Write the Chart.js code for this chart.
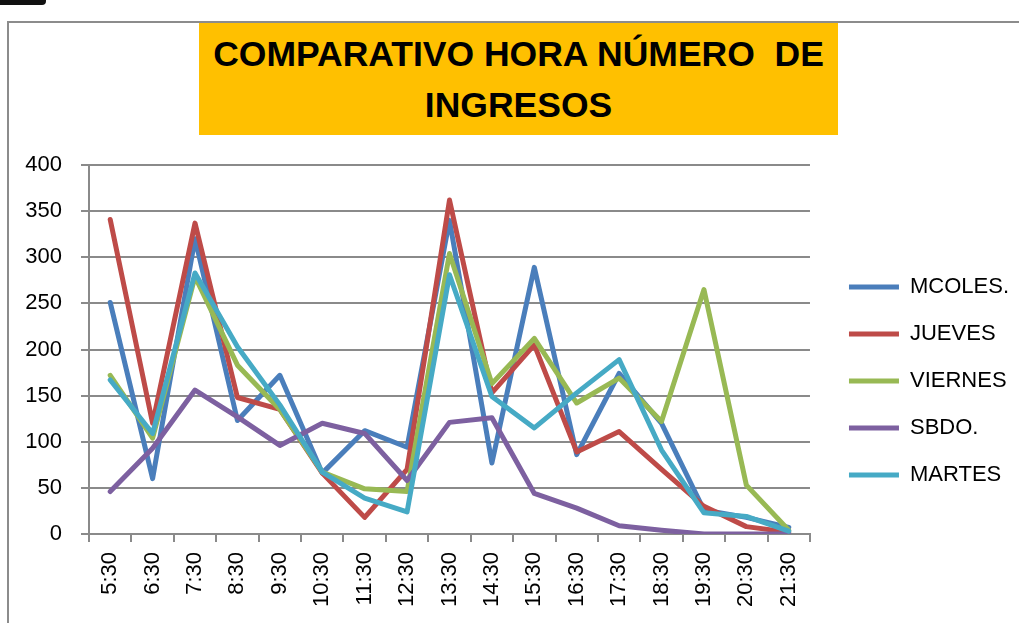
<!DOCTYPE html>
<html>
<head>
<meta charset="utf-8">
<script src="https://cdn.jsdelivr.net/npm/chart.js@4.4.1/dist/chart.umd.min.js"></script>
<style>
  html, body { margin: 0; padding: 0; background: #fff; }
  body { width: 1019px; height: 623px; position: relative; overflow: hidden; }
  #frame { position: absolute; left: 7px; top: 21px; width: 1030px; height: 620px;
           border-top: 2px solid #8c8c8c; border-left: 2px solid #8c8c8c; }
  #tab { position: absolute; left: 0; top: 0; width: 46px; height: 5px; background: #111;
         border-bottom-right-radius: 4px; }
  #chart { position: absolute; left: 0; top: 0; }
  #title { position: absolute; left: 199px; top: 23px; width: 639px; height: 112px;
           background: #FFC000; color: #000; text-align: center;
           font: bold 35.5px 'Liberation Sans', Arial, sans-serif; line-height: 51px;
           box-sizing: border-box; padding-top: 6px; white-space: pre; }
</style>
</head>
<body>
<div id="frame"></div>
<div id="tab"></div>
<canvas id="chart" width="1019" height="623"></canvas>
<div id="title">COMPARATIVO HORA NÚMERO  DE
INGRESOS</div>
<script>
const horas = ['5:30', '6:30', '7:30', '8:30', '9:30', '10:30', '11:30', '12:30', '13:30',
               '14:30', '15:30', '16:30', '17:30', '18:30', '19:30', '20:30', '21:30'];

const mcoles  = [251, 60, 320, 123, 172, 66, 112, 94, 340, 77, 289, 86, 174, 120, 26, 18, 7];
const jueves  = [341, 120, 337, 148, 135, 66, 18, 70, 362, 153, 205, 89, 111, 70, 30, 8, 2];
const viernes = [172, 104, 279, 183, 135, 67, 49, 46, 304, 163, 212, 142, 169, 122, 265, 53, 4];
const sbdo    = [46, 93, 156, 127, 96, 120, 109, 58, 121, 126, 44, 28, 9, 4, 0, 0, 0];
const martes  = [167, 109, 283, 203, 140, 67, 39, 24, 281, 149, 115, 153, 189, 91, 23, 19, 3];

const yTicks = [0, 50, 100, 150, 200, 250, 300, 350, 400];

Chart.defaults.font.family = "'Liberation Sans', Arial, sans-serif";
Chart.defaults.color = '#000';

const gridGray = '#8a8a8a';

function serie(label, data, color, order) {
    return {
        label: label,
        data: data,
        borderColor: color,
        backgroundColor: color,
        borderWidth: 5,
        borderCapStyle: 'round',
        borderJoinStyle: 'round',
        pointRadius: 0,
        tension: 0,
        fill: false,
        order: order
    };
}

const ctx = document.getElementById('chart').getContext('2d');
new Chart(ctx, {
    type: 'line',
    data: {
        labels: horas,
        datasets: [
            serie('MCOLES.', mcoles, '#4A7EBB', 5),
            serie('JUEVES', jueves, '#BE4B48', 4),
            serie('VIERNES', viernes, '#98B954', 3),
            serie('SBDO.', sbdo, '#7D60A0', 2),
            serie('MARTES', martes, '#46AAC5', 1)
        ]
    },
    options: {
        responsive: false,
        animation: false,
        devicePixelRatio: 1,
        layout: {
            padding: { top: 165, bottom: 0, left: 0, right: 0 }
        },
        plugins: {
            title: { display: false },
            tooltip: { enabled: false },
            legend: {
                display: true,
                position: 'right',
                fullSize: false,
                maxWidth: 200,
                // empty title only pushes the entries down
                title: {
                    display: true,
                    text: '',
                    font: { size: 10 },
                    padding: { top: 51, bottom: 0 }
                },
                labels: {
                    usePointStyle: true,
                    pointStyle: 'line',
                    pointStyleWidth: 50,
                    padding: 25,
                    color: '#000',
                    font: { size: 22 },
                    sort: (a, b) => a.datasetIndex - b.datasetIndex
                }
            }
        },
        scales: {
            x: {
                type: 'category',
                offset: true,
                grid: {
                    offset: true,
                    drawOnChartArea: false,
                    drawTicks: true,
                    tickLength: 8,
                    color: gridGray,
                    lineWidth: 2
                },
                border: { display: true, color: gridGray, width: 2 },
                ticks: {
                    minRotation: 90,
                    maxRotation: 90,
                    autoSkip: false,
                    padding: 10,
                    font: { size: 22 }
                },
                afterFit: (scale) => { scale.height = 89; }
            },
            y: {
                min: 0,
                max: 400,
                afterBuildTicks: (scale) => {
                    scale.ticks = yTicks.map(v => ({ value: v }));
                },
                grid: {
                    color: gridGray,
                    lineWidth: 2,
                    drawTicks: true,
                    tickLength: 8
                },
                border: { display: true, color: gridGray, width: 2 },
                ticks: {
                    padding: 19,
                    font: { size: 22 }
                },
                afterFit: (scale) => { scale.width = 89; }
            },
            // empty spacer between the plot and the legend
            hueco: {
                type: 'linear',
                position: 'right',
                display: true,
                grid: { display: false, drawTicks: false },
                border: { display: false },
                ticks: { display: false },
                afterFit: (scale) => { scale.width = 14; }
            }
        }
    }
});
</script>
</body>
</html>
